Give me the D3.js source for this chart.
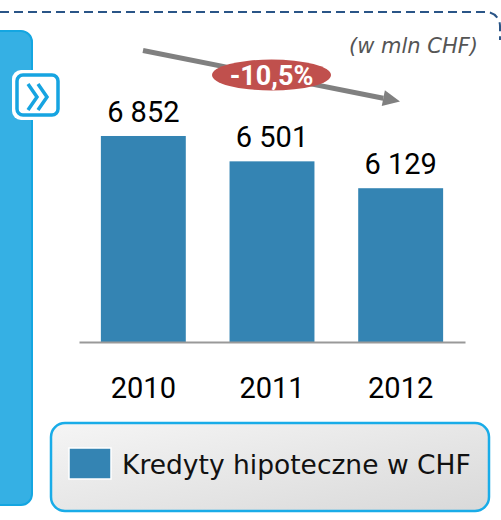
<!DOCTYPE html>
<html>
<head>
<meta charset="utf-8">
<script src="https://cdn.jsdelivr.net/npm/d3@7"></script>
<style>
  html, body { margin: 0; padding: 0; background: #fff; }
  svg { display: block; }
</style>
</head>
<body>
<div id="chart"></div>
<script>
  var years = ['2010', '2011', '2012'];
  var values = [6852, 6501, 6129];
  var valueLabels = ['6 852', '6 501', '6 129'];
  var changeLabel = '-10,5%';
  var unitLabel = '(w mln CHF)';
  var seriesName = 'Kredyty hipoteczne w CHF';

  var width = 501;
  var height = 520;
  var baseline = 342;

  var svg = d3.select('#chart').append('svg')
    .attr('width', width)
    .attr('height', height);

  var defs = svg.append('defs');
  var grad = defs.append('linearGradient')
    .attr('id', 'legendGrad')
    .attr('x1', '0%').attr('y1', '0%')
    .attr('x2', '100%').attr('y2', '100%');
  grad.append('stop').attr('offset', '0%').attr('stop-color', '#f5f5f5');
  grad.append('stop').attr('offset', '100%').attr('stop-color', '#d9d9d9');

  // dashed frame on top
  svg.append('path')
    .attr('d', 'M0,12 H486 A14,14 0 0 1 500,26 V40')
    .attr('fill', 'none')
    .attr('stroke', '#2a5587')
    .attr('stroke-width', 2)
    .attr('stroke-dasharray', '9,5');

  // left side panel
  svg.append('rect')
    .attr('x', -20).attr('y', 31)
    .attr('width', 52).attr('height', 474)
    .attr('rx', 11)
    .attr('fill', '#35b0e4')
    .attr('stroke', '#14a6e1')
    .attr('stroke-width', 2);

  // icon
  svg.append('rect')
    .attr('x', 12).attr('y', 70)
    .attr('width', 51).attr('height', 50)
    .attr('rx', 9)
    .attr('fill', '#fff');
  svg.append('rect')
    .attr('x', 17).attr('y', 75)
    .attr('width', 41).attr('height', 40)
    .attr('rx', 6)
    .attr('fill', '#fff')
    .attr('stroke', '#16a4e1')
    .attr('stroke-width', 3.5);
  [0, 10].forEach(function(dx) {
    svg.append('path')
      .attr('d', 'M' + (28 + dx) + ',84 L' + (37 + dx) + ',97 L' + (28 + dx) + ',110')
      .attr('fill', 'none')
      .attr('stroke', '#16a4e1')
      .attr('stroke-width', 3.5);
  });

  var x = d3.scaleBand()
    .domain(years)
    .range([79, 465])
    .paddingInner(0.34)
    .paddingOuter(0.17);

  var y = d3.scaleLinear()
    .domain([4000, 7000])
    .range([baseline, 125.3]);

  svg.selectAll('rect.bar')
    .data(values)
    .enter()
    .append('rect')
    .attr('class', 'bar')
    .attr('x', function(d, i) { return x(years[i]); })
    .attr('width', x.bandwidth())
    .attr('y', function(d) { return y(d); })
    .attr('height', function(d) { return baseline - y(d); })
    .attr('fill', '#3484b3');

  svg.selectAll('text.val')
    .data(values)
    .enter()
    .append('text')
    .attr('class', 'val')
    .attr('x', function(d, i) { return x(years[i]) + x.bandwidth() / 2; })
    .attr('y', function(d) { return y(d) - 14; })
    .attr('text-anchor', 'middle')
    .style('font-family', 'Roboto, sans-serif')
    .style('font-size', '29px')
    .attr('fill', '#000')
    .text(function(d, i) { return valueLabels[i]; });

  var axis = svg.append('g')
    .attr('transform', 'translate(0,' + baseline + ')')
    .call(d3.axisBottom(x).tickSize(0).tickPadding(35));
  axis.select('.domain')
    .attr('stroke', '#999')
    .attr('stroke-width', 2);
  axis.selectAll('text')
    .style('font-family', 'Roboto, sans-serif')
    .style('font-size', '29px')
    .attr('fill', '#000');

  // trend arrow
  var x1 = 143, y1 = 50.5, x2 = 400, y2 = 101.5;
  var ang = Math.atan2(y2 - y1, x2 - x1);
  var headLen = 17, headW = 8;
  var bx = x2 - headLen * Math.cos(ang), by = y2 - headLen * Math.sin(ang);
  svg.append('line')
    .attr('x1', x1).attr('y1', y1)
    .attr('x2', bx).attr('y2', by)
    .attr('stroke', '#808080')
    .attr('stroke-width', 5);
  svg.append('path')
    .attr('d', 'M' + x2 + ',' + y2 +
      ' L' + (bx + headW * Math.sin(ang)) + ',' + (by - headW * Math.cos(ang)) +
      ' L' + (bx - headW * Math.sin(ang)) + ',' + (by + headW * Math.cos(ang)) + 'Z')
    .attr('fill', '#808080');

  svg.append('ellipse')
    .attr('cx', 271.5).attr('cy', 75)
    .attr('rx', 59.5).attr('ry', 15.5)
    .attr('fill', '#c0504d');
  svg.append('text')
    .attr('x', 271.5).attr('y', 84.5)
    .attr('text-anchor', 'middle')
    .style('font-family', 'Roboto, sans-serif')
    .style('font-size', '27px')
    .style('font-weight', 'bold')
    .attr('fill', '#fff')
    .text(changeLabel);

  svg.append('text')
    .attr('x', 478).attr('y', 53)
    .attr('text-anchor', 'end')
    .style('font-family', 'DejaVu Sans, sans-serif')
    .style('font-size', '21px')
    .style('font-style', 'italic')
    .attr('fill', '#555')
    .text(unitLabel);

  // legend
  svg.append('rect')
    .attr('x', 51).attr('y', 423)
    .attr('width', 438).attr('height', 88)
    .attr('rx', 14)
    .attr('fill', 'url(#legendGrad)')
    .attr('stroke', '#19ace8')
    .attr('stroke-width', 2.5);
  svg.append('rect')
    .attr('x', 69).attr('y', 448)
    .attr('width', 42).attr('height', 31)
    .attr('fill', '#3484b3')
    .attr('stroke', '#fff')
    .attr('stroke-width', 1.5);
  svg.append('text')
    .attr('x', 122).attr('y', 474)
    .style('font-family', 'DejaVu Sans, sans-serif')
    .style('font-size', '26.5px')
    .attr('fill', '#111')
    .text(seriesName);
</script>
</body>
</html>
